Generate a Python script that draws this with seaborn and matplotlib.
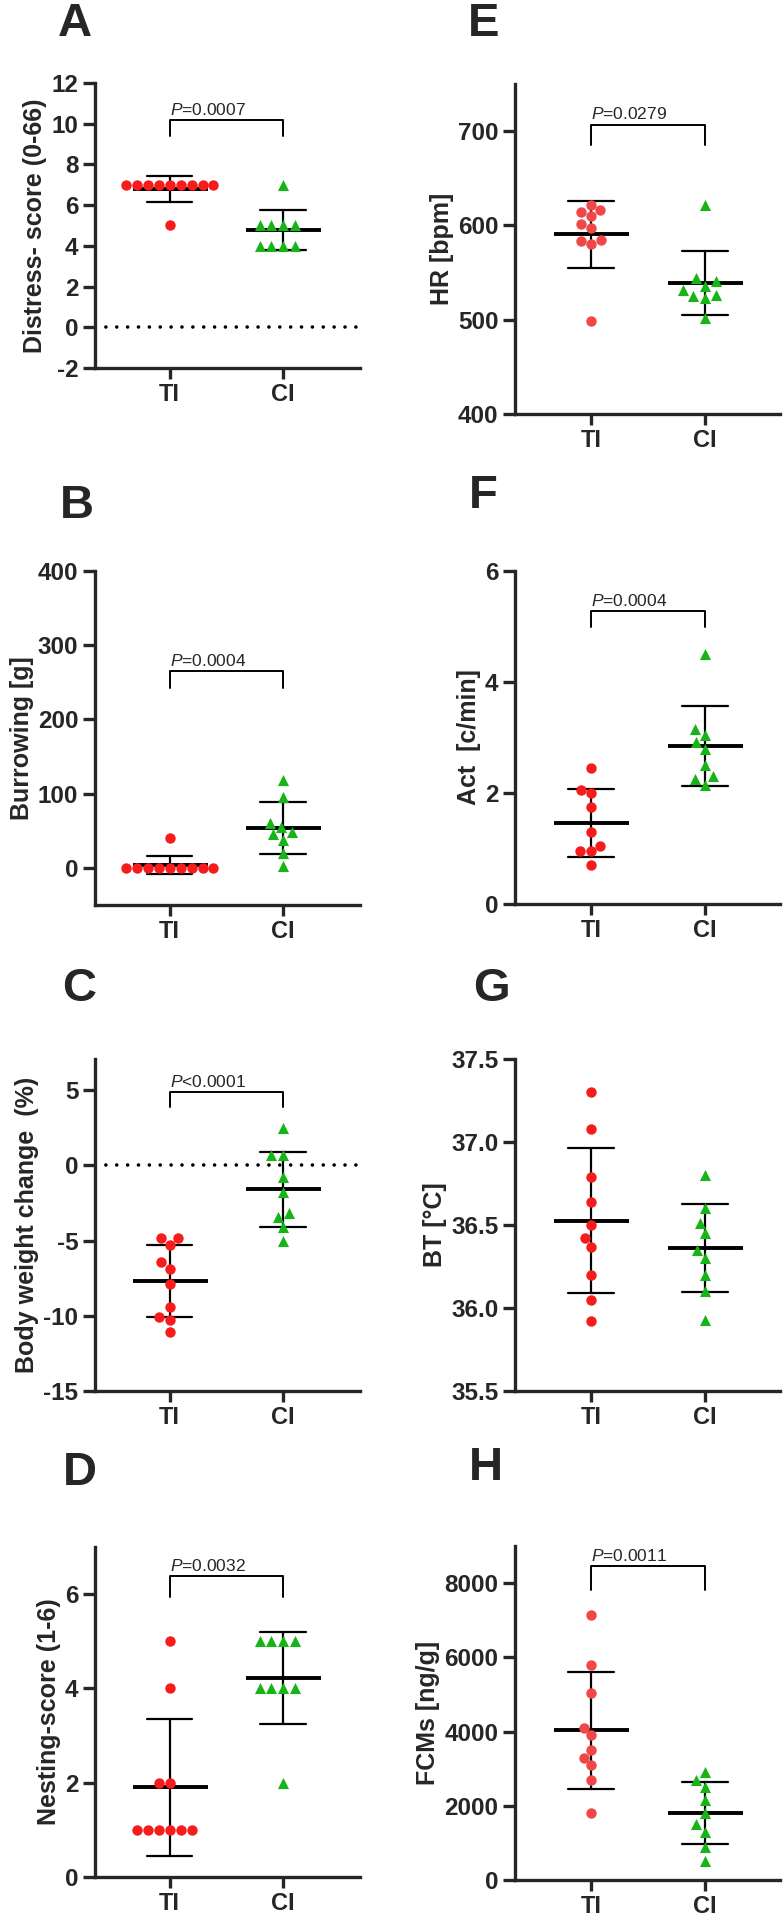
#!/usr/bin/env python3
import warnings

import pandas as pd
import seaborn as sns
from matplotlib import pyplot as plt

warnings.filterwarnings("ignore")

GROUPS = ["TI", "CI"]
RED = "#f71c1c"
LIGHT_RED = "#f04848"
GREEN = "#16b416"

# A - distress score
distress_ti = [7, 7, 7, 7, 7, 7, 7, 7, 7, 5]
distress_ci = [7, 5, 5, 5, 5, 4, 4, 4, 4]
# B - burrowing
burrow_ti = [40, 0, 0, 0, 0, 0, 0, 0, 0, 0]
burrow_ci = [118, 96, 60, 55, 48, 45, 38, 20, 3]
# C - body weight change
weight_ti = [-4.84, -4.84, -5.29, -6.44, -6.89, -7.89, -9.4, -10.1, -10.3, -11.1]
weight_ci = [2.45, 0.67, 0.67, -0.78, -1.78, -3.18, -3.4, -4.07, -5.0]
# D - nesting score
nest_ti = [5, 4, 2, 2, 1, 1, 1, 1, 1, 1]
nest_ci = [5, 5, 5, 5, 4, 4, 4, 4, 2]
# E - heart rate
hr_ti = [622, 616, 614, 610, 597, 601, 585, 583, 580, 499]
hr_ci = [622, 544, 541, 536, 531, 526, 525, 523, 502]
# F - activity
act_ti = [2.45, 2.05, 2.0, 1.75, 1.3, 1.05, 0.95, 0.95, 0.7]
act_ci = [4.5, 3.15, 3.05, 2.92, 2.8, 2.5, 2.3, 2.15, 2.25]
# G - body temperature
bt_ti = [37.3, 37.08, 36.79, 36.64, 36.5, 36.42, 36.37, 36.2, 36.05, 35.92]
bt_ci = [36.8, 36.6, 36.51, 36.45, 36.35, 36.3, 36.2, 36.1, 35.93]
# H - faecal corticosterone metabolites
fcm_ti = [7145, 5800, 5030, 4100, 3900, 3500, 3300, 3100, 2700, 1800]
fcm_ci = [2900, 2700, 2500, 2150, 1800, 1500, 1300, 900, 500]

W, H = 784, 1920


def px_rect(left, top, right, bottom):
    return [left / W, 1 - bottom / H, (right - left) / W, (bottom - top) / H]


def panel(fig, rect, letter, letter_pos, ti, ci, ylabel, ylim, yticks, xlim,
          red=RED, p_text=None, bracket=None, zero_line=False, fmt="{:g}"):
    ax = fig.add_axes(rect)
    df = pd.DataFrame({"Group": ["TI"] * len(ti) + ["CI"] * len(ci), "Value": ti + ci})

    if zero_line:
        ax.axhline(0, color="black", lw=2.6, linestyle=(0, (0.01, 3.0)),
                   dash_capstyle="round", zorder=0)

    sns.swarmplot(df[df.Group == "TI"], x="Group", y="Value", order=GROUPS, color=red,
                  marker="o", size=7.5, linewidth=0, ax=ax)
    sns.swarmplot(df[df.Group == "CI"], x="Group", y="Value", order=GROUPS, color=GREEN,
                  marker="^", size=8, linewidth=0, ax=ax)
    sns.pointplot(df, x="Group", y="Value", order=GROUPS, errorbar="sd", capsize=0.4,
                  color="black", marker="_", markersize=54, markeredgewidth=2.8,
                  linestyle="none", err_kws={"linewidth": 1.6}, ax=ax)

    if bracket is not None:
        top, drop = bracket
        ax.plot([0, 0, 1, 1], [drop, top, top, drop], color="black", lw=1.4, clip_on=False)
        ax.annotate(p_text, (0, top), xytext=(0, 1.5), textcoords="offset points",
                    ha="left", va="bottom", fontsize=12.5)

    ax.set_xlim(*xlim)
    ax.set_ylim(*ylim)
    ax.set_yticks(yticks, labels=[fmt.format(t) for t in yticks])
    ax.set_xlabel("")
    ax.set_ylabel(ylabel, fontsize=18, fontweight="bold", labelpad=3)
    sns.despine(ax=ax)
    for side in ["left", "bottom"]:
        ax.spines[side].set_linewidth(2.4)
    ax.tick_params(axis="y", length=9, width=2.4, pad=3, labelsize=17.5)
    ax.tick_params(axis="x", length=8, width=2.4, pad=3, labelsize=17)
    for lab in ax.get_xticklabels() + ax.get_yticklabels():
        lab.set_fontweight("bold")

    fig.text(letter_pos[0] / W, 1 - letter_pos[1] / H, letter, fontsize=34,
             fontweight="bold", ha="left", va="top")
    return ax


def main():
    sns.set_style("ticks")
    plt.rcParams["font.family"] = ["Liberation Sans", "DejaVu Sans"]
    plt.rcParams["mathtext.fontset"] = "custom"
    plt.rcParams["mathtext.rm"] = "Liberation Sans"
    plt.rcParams["mathtext.it"] = "Liberation Sans:italic"

    fig = plt.figure(figsize=(W / 100, H / 100), dpi=100)
    left_x = (-0.66, 1.68)
    right_x = (-0.67, 1.66)

    panel(fig, px_rect(95, 83, 360, 368), "A", (58, 2), distress_ti, distress_ci,
          "Distress- score (0-66)", (-2, 12), list(range(-2, 13, 2)), left_x,
          p_text=r"$\mathit{P}$=0.0007", bracket=(10.2, 9.42), zero_line=True)
    panel(fig, px_rect(95, 571, 360, 905), "B", (60, 484), burrow_ti, burrow_ci,
          "Burrowing [g]", (-50, 400), [0, 100, 200, 300, 400], left_x,
          p_text=r"$\mathit{P}$=0.0004", bracket=(265, 243))
    panel(fig, px_rect(95, 1059, 360, 1391), "C", (62, 967), weight_ti, weight_ci,
          "Body weight change  (%)", (-15, 7.07), [-15, -10, -5, 0, 5], left_x,
          p_text=r"$\mathit{P}$<0.0001", bracket=(4.87, 3.87), zero_line=True)
    panel(fig, px_rect(95, 1547, 360, 1877), "D", (63, 1451), nest_ti, nest_ci,
          "Nesting-score (1-6)", (0, 7), [0, 2, 4, 6], left_x,
          p_text=r"$\mathit{P}$=0.0032", bracket=(6.38, 5.94))

    panel(fig, px_rect(515, 84, 780, 414), "E", (468, 2), hr_ti, hr_ci,
          "HR [bpm]", (400, 750), [400, 500, 600, 700], right_x, red=LIGHT_RED,
          p_text=r"$\mathit{P}$=0.0279", bracket=(707, 685))
    panel(fig, px_rect(515, 571, 780, 904), "F", (469, 474), act_ti, act_ci,
          "Act  [c/min]", (0, 6), [0, 2, 4, 6], right_x,
          p_text=r"$\mathit{P}$=0.0004", bracket=(5.28, 5.0))
    panel(fig, px_rect(515, 1059, 780, 1391), "G", (473, 967), bt_ti, bt_ci,
          "BT [°C]", (35.5, 37.5), [35.5, 36.0, 36.5, 37.0, 37.5], right_x,
          fmt="{:.1f}")
    panel(fig, px_rect(515, 1546, 780, 1880), "H", (469, 1446), fcm_ti, fcm_ci,
          "FCMs [ng/g]", (0, 9000), [0, 2000, 4000, 6000, 8000], right_x, red=LIGHT_RED,
          p_text=r"$\mathit{P}$=0.0011", bracket=(8460, 7810))

    fig.savefig("out.png", dpi=100)
    plt.close(fig)


if __name__ == '__main__':
    main()
